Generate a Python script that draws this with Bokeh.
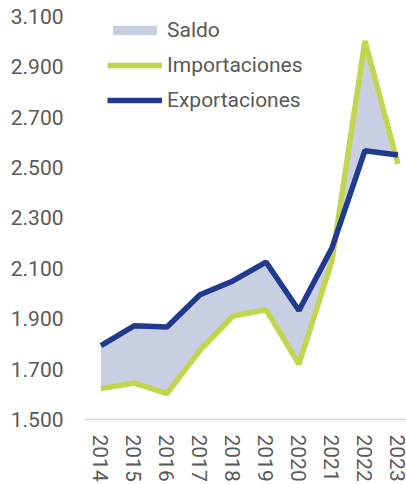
from bokeh.plotting import figure
from bokeh.models import FixedTicker, CustomJSTickFormatter, Range1d, Legend, LegendItem
from bokeh.embed import file_html
from bokeh.resources import INLINE

years = [2014, 2015, 2016, 2017, 2018, 2019, 2020, 2021, 2022, 2023]
exportaciones = [1793, 1872, 1867, 1995, 2050, 2125, 1933, 2181, 2567, 2550]
importaciones = [1623, 1645, 1603, 1775, 1911, 1936, 1720, 2130, 3003, 2514]
y_ticks = [1500, 1700, 1900, 2100, 2300, 2500, 2700, 2900, 3100]

TXT = "#595959"
FONT = "Roboto"

p = figure(width=406, height=484, output_backend="svg", toolbar_location=None,
           min_border_left=84, min_border_right=0, min_border_top=0, min_border_bottom=64,
           x_range=Range1d(2013.5, 2023.26), y_range=Range1d(1500, 3163.4))
p.outline_line_color = None
p.grid.visible = False
p.background_fill_color = "white"

saldo = p.varea(x=years, y1=importaciones, y2=exportaciones, fill_color="#C9CFE3")
imp = p.line(years, importaciones, line_color="#C2D54E", line_width=5.5)
exp = p.line(years, exportaciones, line_color="#1F3A8F", line_width=5.5)

p.xaxis.ticker = FixedTicker(ticks=years)
p.xaxis.major_label_orientation = "vertical"
p.xaxis.major_tick_line_color = None
p.xaxis.major_tick_out = 0
p.xaxis.major_tick_in = 0
p.xaxis.minor_tick_line_color = None
p.xaxis.axis_line_color = "#D9D9D9"
p.xaxis.axis_line_width = 1.5
p.xaxis.major_label_standoff = 15

p.yaxis.ticker = FixedTicker(ticks=y_ticks)
p.yaxis.formatter = CustomJSTickFormatter(code="""
return Math.round(tick).toString().replace(/\\B(?=(\\d{3})+(?!\\d))/g, '.');
""")
p.yaxis.axis_line_color = None
p.yaxis.major_tick_line_color = None
p.yaxis.major_tick_out = 0
p.yaxis.major_tick_in = 0
p.yaxis.minor_tick_line_color = None
p.yaxis.major_label_standoff = 21

for ax in (p.xaxis, p.yaxis):
    ax.major_label_text_font = FONT
    ax.major_label_text_font_size = "21px"
    ax.major_label_text_color = TXT

legend = Legend(items=[
    LegendItem(label="Saldo", renderers=[saldo]),
    LegendItem(label="Importaciones", renderers=[imp]),
    LegendItem(label="Exportaciones", renderers=[exp]),
], location=(23, 304))
legend.border_line_color = None
legend.background_fill_alpha = 0
legend.padding = 0
legend.margin = 0
legend.spacing = 5
legend.glyph_width = 55
legend.glyph_height = 12
legend.label_height = 30
legend.label_standoff = 5
legend.label_text_font = FONT
legend.label_text_font_size = "21px"
legend.label_text_color = TXT
p.add_layout(legend, "center")

open("out.html", "w").write(file_html(p, INLINE))
